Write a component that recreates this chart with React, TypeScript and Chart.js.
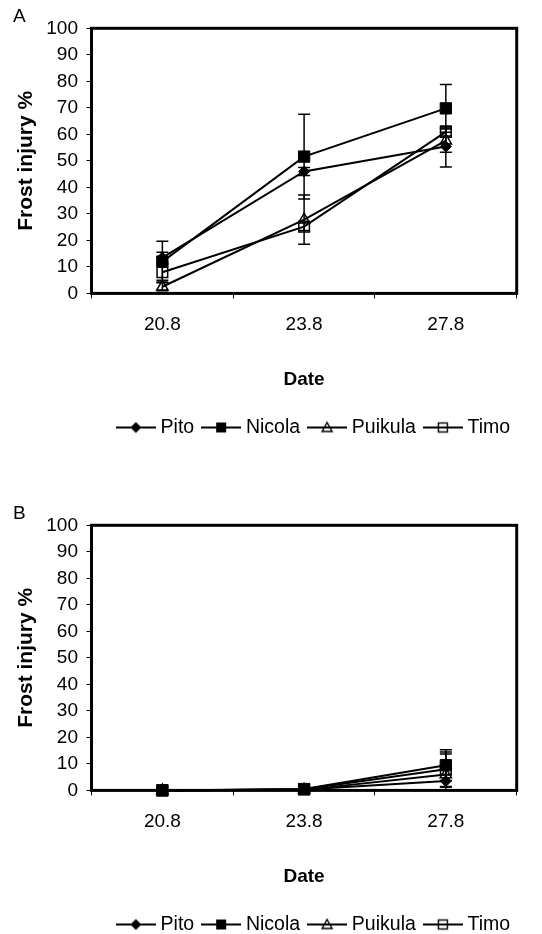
import React, { useEffect, useRef } from 'react';
import { Chart, registerables } from 'chart.js';

Chart.register(...registerables);

const FONT = "'Liberation Sans', Arial, Helvetica, sans-serif";

// ---- data ----
const dates = ['20.8', '23.8', '27.8'];
const seriesNames = ['Pito', 'Nicola', 'Puikula', 'Timo'];
const yMin = 0;
const yMax = 100;
const yStep = 10;
const yTitle = 'Frost injury %';
const xTitle = 'Date';

// Panel A
const pitoA = [13.5, 46, 55.4];
const nicolaA = [12, 51.6, 69.8];
const puikulaA = [2.5, 27.8, 57.6];
const timoA = [8, 25.2, 60.9];
const pitoErrA = [2, 1.5, 7.7];
const nicolaErrA = [7.7, 16, 9];
const puikulaErrA = [1.5, 9.3, 4.4];
const timoErrA = [3, 1.5, 1.5];

// Panel B
const pitoB = [0, 0.3, 3.5];
const nicolaB = [0, 0.5, 9.5];
const puikulaB = [0, 0.2, 6];
const timoB = [0, 0.4, 8];
const pitoErrB = [0, 0.3, 2.3];
const nicolaErrB = [0, 1, 5.8];
const puikulaErrB = [0, 0.3, 7.7];
const timoErrB = [0, 0.3, 6.5];

const markerKinds = ['diamond', 'square', 'triangle', 'openSquare'];

function makeLegendIcon(kind: string): HTMLCanvasElement {
  const c = document.createElement('canvas');
  c.width = 40;
  c.height = 16;
  const g = c.getContext('2d')!;
  g.strokeStyle = '#000';
  g.fillStyle = '#000';
  g.lineWidth = 2;
  g.beginPath();
  g.moveTo(0, 8);
  g.lineTo(40, 8);
  g.stroke();
  const cx = 20;
  const cy = 8;
  g.lineWidth = 1.4;
  if (kind === 'diamond') {
    g.beginPath();
    g.moveTo(cx, cy - 5.5);
    g.lineTo(cx + 5.5, cy);
    g.lineTo(cx, cy + 5.5);
    g.lineTo(cx - 5.5, cy);
    g.closePath();
    g.fill();
  } else if (kind === 'square') {
    g.fillRect(cx - 5, cy - 5, 10, 10);
  } else if (kind === 'triangle') {
    g.beginPath();
    g.moveTo(cx, cy - 5);
    g.lineTo(cx + 5, cy + 4);
    g.lineTo(cx - 5, cy + 4);
    g.closePath();
    g.stroke();
  } else {
    g.strokeRect(cx - 4.5, cy - 4.5, 9, 9);
  }
  return c;
}

const framePlugin = {
  id: 'frame',
  beforeDatasetsDraw(chart: any) {
    const { ctx, chartArea } = chart;
    ctx.save();
    ctx.strokeStyle = '#000';
    ctx.lineWidth = 3;
    ctx.strokeRect(chartArea.left, chartArea.top, chartArea.right - chartArea.left, chartArea.bottom - chartArea.top);
    ctx.restore();
  },
};

const errorBarPlugin = {
  id: 'errorBars',
  afterDatasetsDraw(chart: any) {
    const { ctx, chartArea } = chart;
    const y = chart.scales.y;
    ctx.save();
    ctx.beginPath();
    ctx.rect(chartArea.left, chartArea.top, chartArea.right - chartArea.left, chartArea.bottom - chartArea.top);
    ctx.clip();
    ctx.strokeStyle = '#000';
    ctx.lineWidth = 1.5;
    chart.data.datasets.forEach((ds: any, i: number) => {
      const meta = chart.getDatasetMeta(i);
      const errs: number[] = ds.errors || [];
      meta.data.forEach((pt: any, j: number) => {
        const v = ds.data[j];
        const e = errs[j];
        if (!e) return;
        const x = pt.x;
        const yt = y.getPixelForValue(v + e);
        const yb = y.getPixelForValue(v - e);
        ctx.beginPath();
        ctx.moveTo(x, yt);
        ctx.lineTo(x, yb);
        ctx.moveTo(x - 6, yt);
        ctx.lineTo(x + 6, yt);
        ctx.moveTo(x - 6, yb);
        ctx.lineTo(x + 6, yb);
        ctx.stroke();
      });
    });
    ctx.restore();
  },
};

const legendShiftPlugin = {
  id: 'legendShift',
  afterLayout(chart: any) {
    const lg = chart.legend;
    if (!lg) return;
    const ca = chart.chartArea;
    const target = (ca.left + ca.right) / 2 + 11.4;
    const d = target - (lg.left + lg.right) / 2;
    lg.left += d;
    lg.right += d;
  },
};

function Panel(props: { label: string; values: number[][]; errors: number[][]; top: number }) {
  const ref = useRef<HTMLCanvasElement>(null);
  useEffect(() => {
    Chart.defaults.font.family = FONT;
    Chart.defaults.color = '#000';
    const icons = markerKinds.map(makeLegendIcon);
    const styleFor = (k: string) => {
      if (k === 'diamond') return { pointStyle: 'rectRot', pointRadius: 5.5, pointBackgroundColor: '#000', pointBorderWidth: 1 };
      if (k === 'square') return { pointStyle: 'rect', pointRadius: 8, pointBackgroundColor: '#000', pointBorderWidth: 1 };
      if (k === 'triangle') return { pointStyle: 'triangle', pointRadius: 6.5, pointBackgroundColor: 'rgba(255,255,255,0)', pointBorderWidth: 1.5 };
      return { pointStyle: 'rect', pointRadius: 7.5, pointBackgroundColor: 'rgba(255,255,255,0)', pointBorderWidth: 1.5 };
    };
    const datasets = seriesNames.map((name, i) => ({
      label: name,
      data: props.values[i],
      errors: props.errors[i],
      borderColor: '#000',
      backgroundColor: '#000',
      borderWidth: 2,
      pointBorderColor: '#000',
      pointHoverRadius: 0,
      fill: false,
      tension: 0,
      clip: false as any,
      ...styleFor(markerKinds[i]),
    }));
    const chart = new Chart(ref.current!, {
      type: 'line',
      data: { labels: dates, datasets: datasets as any },
      options: {
        responsive: false,
        animation: false,
        devicePixelRatio: 1,
        events: [],
        layout: { padding: { left: 13, right: 25.3, top: 0, bottom: 19.75 } },
        plugins: {
          title: {
            display: true,
            text: props.label,
            align: 'start',
            color: '#000',
            font: { size: 19, weight: 'normal', family: FONT },
            padding: { top: 5.5, bottom: 0 },
          },
          legend: {
            position: 'bottom',
            labels: {
              usePointStyle: true,
              pointStyleWidth: 30,
              padding: 12,
              color: '#000',
              font: { size: 19.5, family: FONT },
              generateLabels: (c: any) =>
                (Chart.defaults.plugins.legend.labels.generateLabels as any)(c).map((it: any, i: number) => ({
                  ...it,
                  pointStyle: icons[i],
                })),
            },
          },
          tooltip: { enabled: false },
        },
        scales: {
          x: {
            type: 'category',
            offset: true,
            grid: { offset: true, drawOnChartArea: false, drawTicks: true, tickLength: 5, color: '#000', lineWidth: 1 },
            border: { display: false },
            ticks: { color: '#000', padding: 15.1, font: { size: 19, family: FONT } },
            title: {
              display: true,
              text: xTitle,
              color: '#000',
              font: { size: 19, weight: 'bold', family: FONT },
              padding: { top: 16.7, bottom: 14.85 },
            },
          },
          y: {
            min: yMin,
            max: yMax,
            ticks: { stepSize: yStep, color: '#000', padding: 8.5, font: { size: 19, family: FONT } },
            grid: { drawOnChartArea: false, drawTicks: true, tickLength: 5, color: '#000', lineWidth: 1 },
            border: { display: false },
            title: {
              display: true,
              text: yTitle,
              color: '#000',
              font: { size: 21, weight: 'bold', family: FONT },
              padding: { top: 0.4, bottom: 0 },
            },
            afterFit: (s: any) => {
              s.width = 78.5;
            },
          },
        },
      } as any,
      plugins: [framePlugin, errorBarPlugin, legendShiftPlugin],
    });
    return () => chart.destroy();
  }, []);
  return (
    <canvas
      ref={ref}
      width={542}
      height={467}
      style={{ position: 'absolute', left: 0, top: props.top, width: 542, height: 467 }}
    />
  );
}

export default function App() {
  return (
    <div style={{ position: 'absolute', left: 0, top: 0, width: 542, height: 934, overflow: 'hidden', background: '#fff' }}>
      <Panel
        label="A"
        top={0}
        values={[pitoA, nicolaA, puikulaA, timoA]}
        errors={[pitoErrA, nicolaErrA, puikulaErrA, timoErrA]}
      />
      <Panel
        label="B"
        top={497}
        values={[pitoB, nicolaB, puikulaB, timoB]}
        errors={[pitoErrB, nicolaErrB, puikulaErrB, timoErrB]}
      />
    </div>
  );
}
